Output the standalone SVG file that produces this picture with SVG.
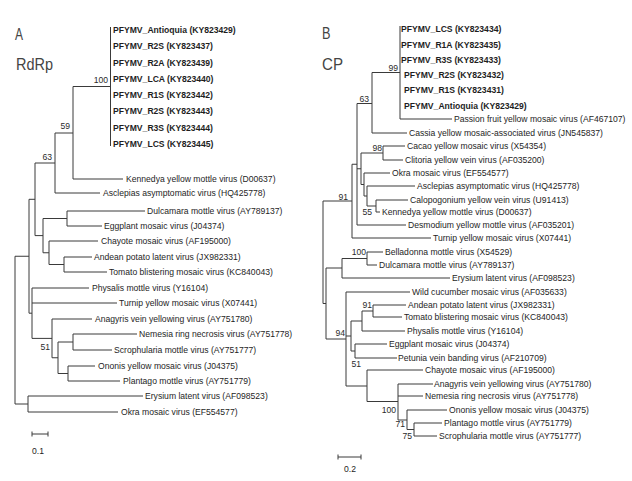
<svg xmlns="http://www.w3.org/2000/svg" width="632" height="481" viewBox="0 0 632 481">
<style>
.br{fill:none;stroke:#3a3a3a;stroke-width:1}
.t{font-family:"Liberation Sans",Arial,sans-serif;font-size:8.6px;fill:#1e1e1e}
.b{font-weight:bold}
.bs{font-family:"Liberation Sans",Arial,sans-serif;font-size:8.6px;fill:#2a2a2a;text-anchor:end}
.big{font-family:"Liberation Sans",Arial,sans-serif;font-size:16.5px;fill:#444}
</style>
<rect width="632" height="481" fill="#fff"/>

<!-- Panel A -->
<g id="panelA">
<text class="big" x="15" y="40" textLength="8" lengthAdjust="spacingAndGlyphs">A</text>
<text class="big" x="16" y="70" textLength="37" lengthAdjust="spacingAndGlyphs">RdRp</text>
<g id="A-connectors">
<path class="br" d="M110.5 27V146M73 86.5H110.5M73 86.5V179M73 179H123M55 133H73M55 133V193M55 193H100M35 163H55M35 163V235.6M35 235.6H43M43 218.5V252.75M43 218.5H67M67 211V226M67 211H145M67 226H102M43 252.75H49M49 241V264.5M49 241H98M49 264.5H64M64 257V272M64 257H92M64 272H107M29 199.3H35M29 199.3V313.2M15 256.25H29M29 313.2H32M32 288V338.4M32 288H89M32 303H117M32 338.4H52M52 319V357.75M52 319H92M52 357.75H58M58 342V373.5M58 342H73M73 334V350M73 334H137M73 350H112M58 373.5H68M68 366V381M68 366H95M68 381H120M15 256.25V404M15 404H28M28 396V412M28 396H143M28 412H118"/>
<path class="br" d="M32 434H48M32 431.5V436.5M48 431.5V436.5"/>
</g>
<g id="A-support">
<text class="bs" x="108" y="83">100</text>
<text class="bs" x="70" y="129">59</text>
<text class="bs" x="52" y="160">63</text>
<text class="bs" x="50" y="350">51</text>
</g>
<g id="A-leaves">
<g id="A-PFYMV-Antioquia"><text class="t b" x="113" y="33">PFYMV_Antioquia (KY823429)</text></g>
<g id="A-PFYMV-R2S-437"><text class="t b" x="113" y="49">PFYMV_R2S (KY823437)</text></g>
<g id="A-PFYMV-R2A"><text class="t b" x="113" y="65.5">PFYMV_R2A (KY823439)</text></g>
<g id="A-PFYMV-LCA"><text class="t b" x="113" y="82">PFYMV_LCA (KY823440)</text></g>
<g id="A-PFYMV-R1S"><text class="t b" x="113" y="98">PFYMV_R1S (KY823442)</text></g>
<g id="A-PFYMV-R2S-443"><text class="t b" x="113" y="114">PFYMV_R2S (KY823443)</text></g>
<g id="A-PFYMV-R3S"><text class="t b" x="113" y="130.5">PFYMV_R3S (KY823444)</text></g>
<g id="A-PFYMV-LCS"><text class="t b" x="113" y="147">PFYMV_LCS (KY823445)</text></g>
<g id="A-Kennedya"><text class="t" x="126" y="182">Kennedya yellow mottle virus (D00637)</text></g>
<g id="A-Asclepias"><text class="t" x="103" y="196">Asclepias asymptomatic virus (HQ425778)</text></g>
<g id="A-Dulcamara"><text class="t" x="147" y="214">Dulcamara mottle virus (AY789137)</text></g>
<g id="A-Eggplant"><text class="t" x="104" y="229">Eggplant mosaic virus (J04374)</text></g>
<g id="A-Chayote"><text class="t" x="101" y="244">Chayote mosaic virus (AF195000)</text></g>
<g id="A-Andean"><text class="t" x="94" y="260">Andean potato latent virus (JX982331)</text></g>
<g id="A-Tomato"><text class="t" x="109" y="275">Tomato blistering mosaic virus (KC840043)</text></g>
<g id="A-Physalis"><text class="t" x="92" y="291">Physalis mottle virus (Y16104)</text></g>
<g id="A-Turnip"><text class="t" x="119" y="306">Turnip yellow mosaic virus (X07441)</text></g>
<g id="A-Anagyris"><text class="t" x="95" y="322">Anagyris vein yellowing virus (AY751780)</text></g>
<g id="A-Nemesia"><text class="t" x="139" y="337">Nemesia ring necrosis virus (AY751778)</text></g>
<g id="A-Scrophularia"><text class="t" x="114" y="353">Scrophularia mottle virus (AY751777)</text></g>
<g id="A-Ononis"><text class="t" x="98" y="369">Ononis yellow mosaic virus (J04375)</text></g>
<g id="A-Plantago"><text class="t" x="123" y="384">Plantago mottle virus (AY751779)</text></g>
<g id="A-Erysium"><text class="t" x="145" y="399">Erysium latent virus (AF098523)</text></g>
<g id="A-Okra"><text class="t" x="121" y="415">Okra mosaic virus (EF554577)</text></g>
</g>
<text class="t" x="32" y="454">0.1</text>
</g>

<!-- Panel B -->
<g id="panelB">
<text class="big" x="322" y="39" textLength="8.5" lengthAdjust="spacingAndGlyphs">B</text>
<text class="big" x="322" y="70" textLength="21" lengthAdjust="spacingAndGlyphs">CP</text>
<g id="B-connectors">
<path class="br" d="M400 26V119M400 119H452M372 72.5H400M372 72.5V133M372 133H407M357 103.5H372M357 103.5V225M357 225H406M357 168.75H361M361 153V184.5M361 153H383M383 146V160M383 146H405M383 160H403M361 184.5H364M364 173V196M364 173H390M364 196H367M367 186V206M367 186H415M367 206H376M376 200V212M376 200H408M376 212H380M352 164.25H357M352 164.25V238M352 238H431M323 201H352M323 201V303.5M323 303.5H326M326 268V339M326 268H342M326 339H346M342 258.5V278M342 258.5H367M342 278H450M367 252V265M367 252H383M367 265H377M346 292V386M346 292H410M346 336H351M346 386H367M351 321V351M351 321H362M351 351H355M355 344V358M355 344H387M355 358H397M362 311V331M362 311H373M362 331H405M373 305V317M373 305H406M373 317H402M367 370V401.5M367 370H423M367 401.5H398M398 384V420M398 384H433M398 396H423M398 420H407M407 410V429.5M407 410H447M407 429.5H414M414 423V436M414 423H442M414 436H437"/>
<path class="br" d="M338 457H361M338 454.5V459.5M361 454.5V459.5"/>
</g>
<g id="B-support">
<text class="bs" x="398" y="71">99</text>
<text class="bs" x="369" y="102">63</text>
<text class="bs" x="382" y="151">98</text>
<text class="bs" x="372" y="215">55</text>
<text class="bs" x="348" y="200">91</text>
<text class="bs" x="366" y="255">100</text>
<text class="bs" x="372" y="308">91</text>
<text class="bs" x="345" y="336">94</text>
<text class="bs" x="361" y="367">51</text>
<text class="bs" x="396" y="413">100</text>
<text class="bs" x="405" y="427">71</text>
<text class="bs" x="412" y="439">75</text>
</g>
<g id="B-leaves">
<g id="B-PFYMV-LCS"><text class="t b" x="401" y="32">PFYMV_LCS (KY823434)</text></g>
<g id="B-PFYMV-R1A"><text class="t b" x="401" y="48">PFYMV_R1A (KY823435)</text></g>
<g id="B-PFYMV-R3S"><text class="t b" x="401" y="62.5">PFYMV_R3S (KY823433)</text></g>
<g id="B-PFYMV-R2S"><text class="t b" x="404" y="77.5">PFYMV_R2S (KY823432)</text></g>
<g id="B-PFYMV-R1S"><text class="t b" x="404" y="93">PFYMV_R1S (KY823431)</text></g>
<g id="B-PFYMV-Antioquia"><text class="t b" x="404" y="108.5">PFYMV_Antioquia (KY823429)</text></g>
<g id="B-Passion"><text class="t" x="454" y="122">Passion fruit yellow mosaic virus (AF467107)</text></g>
<g id="B-Cassia"><text class="t" x="409" y="136">Cassia yellow mosaic-associated virus (JN545837)</text></g>
<g id="B-Cacao"><text class="t" x="407" y="149">Cacao yellow mosaic virus (X54354)</text></g>
<g id="B-Clitoria"><text class="t" x="405" y="163">Clitoria yellow vein virus (AF035200)</text></g>
<g id="B-Okra"><text class="t" x="392" y="176">Okra mosaic virus (EF554577)</text></g>
<g id="B-Asclepias"><text class="t" x="417" y="189">Asclepias asymptomatic virus (HQ425778)</text></g>
<g id="B-Calopogonium"><text class="t" x="410" y="203">Calopogonium yellow vein virus (U91413)</text></g>
<g id="B-Kennedya"><text class="t" x="382" y="215">Kennedya yellow mottle virus (D00637)</text></g>
<g id="B-Desmodium"><text class="t" x="408" y="228">Desmodium yellow mottle virus (AF035201)</text></g>
<g id="B-Turnip"><text class="t" x="433" y="241">Turnip yellow mosaic virus (X07441)</text></g>
<g id="B-Belladonna"><text class="t" x="385" y="255">Belladonna mottle virus (X54529)</text></g>
<g id="B-Dulcamara"><text class="t" x="379" y="268">Dulcamara mottle virus (AY789137)</text></g>
<g id="B-Erysium"><text class="t" x="452" y="281">Erysium latent virus (AF098523)</text></g>
<g id="B-WildCucumber"><text class="t" x="412" y="295">Wild cucumber mosaic virus (AF035633)</text></g>
<g id="B-Andean"><text class="t" x="408" y="308">Andean potato latent virus (JX982331)</text></g>
<g id="B-Tomato"><text class="t" x="404" y="320">Tomato blistering mosaic virus (KC840043)</text></g>
<g id="B-Physalis"><text class="t" x="407" y="334">Physalis mottle virus (Y16104)</text></g>
<g id="B-Eggplant"><text class="t" x="389" y="347">Eggplant mosaic virus (J04374)</text></g>
<g id="B-Petunia"><text class="t" x="398" y="361">Petunia vein banding virus (AF210709)</text></g>
<g id="B-Chayote"><text class="t" x="425" y="373">Chayote mosaic virus (AF195000)</text></g>
<g id="B-Anagyris"><text class="t b" x="434" y="387" style="font-weight:normal">Anagyris vein yellowing virus (AY751780)</text></g>
<g id="B-Nemesia"><text class="t" x="425" y="399">Nemesia ring necrosis virus (AY751778)</text></g>
<g id="B-Ononis"><text class="t" x="449" y="413">Ononis yellow mosaic virus (J04375)</text></g>
<g id="B-Plantago"><text class="t" x="444" y="426">Plantago mottle virus (AY751779)</text></g>
<g id="B-Scrophularia"><text class="t" x="439" y="439">Scrophularia mottle virus (AY751777)</text></g>
</g>
<text class="t" x="350" y="472" text-anchor="middle">0.2</text>
</g>
</svg>
